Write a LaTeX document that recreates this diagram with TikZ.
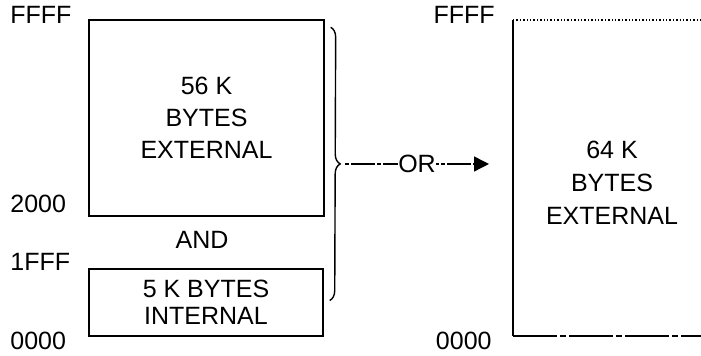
\documentclass[tikz,border=0pt]{standalone}
\usepackage{fontspec}
\setmainfont{Liberation Sans}
\usetikzlibrary{decorations.pathreplacing,arrows.meta}
\tikzset{
  mem/.style={
    % The shape:
    shape=rectangle,inner sep=0pt,
    % The border:
    line width=0.7pt,draw=black,
    % The text:
    align=center,font=\fontsize{12.5}{16}\selectfont
  }}
\tikzset{
	addr/.style={
		inner sep=0pt,font=\fontsize{12.5}{15}\selectfont}}

\begin{document}
\begin{tikzpicture}[x=0.5pt,y=-0.5pt]
	\useasboundingbox (0,0) rectangle (701,356);
	% Blocks on the left
	\node[mem,minimum width=117.5pt,minimum height=98pt] (ext56) at (206.5,118) {56 K\\BYTES\\EXTERNAL};
	\node[mem,minimum width=117pt,minimum height=33.5pt,font=\fontsize{12.5}{13.5}\selectfont] (int5) at (206,302.5) {5 K BYTES\\INTERNAL};
	\node[addr] (and) at (202,240) {AND};
	% Addresses on the left
	\node[addr,anchor=base west] (hi1) at (10,24) {FFFF};
	\node[addr,anchor=base west] (a2000) at (10,213) {2000};
	\node[addr,anchor=base west] (a1fff) at (10,271) {1FFF};
	\node[addr,anchor=base west] (lo1) at (10,350) {0000};
	% Brace round both blocks
	\draw[line width=0.7pt,decorate,decoration={brace,amplitude=5pt}]
		([xshift=3pt,yshift=-4pt]ext56.north east) -- ([xshift=3pt,yshift=1pt]int5.east);
	\coordinate (bracetip) at (345,164);
	% Block on the right, open at the far side
	\coordinate (tl) at (513,20);
	\coordinate (bl) at (513,336);
	\draw[line width=0.9pt] (tl) -- (bl);
	\draw[line width=0.7pt,densely dotted] (tl) -- (701,20);
	\draw[line width=0.7pt,dash pattern=on 22pt off 1.5pt on 3pt off 1.5pt] (bl) -- (701,336);
	\node[mem,draw=none,font=\fontsize{12.5}{16.5}\selectfont] (ext64) at (612,183) {64 K\\BYTES\\EXTERNAL};
	\node[addr,anchor=base east] (hi2) at (495,24) {FFFF};
	\node[addr,anchor=base east] (lo2) at (492,350) {0000};
	% The arrow between
	\coordinate (orend) at (489,164);
	\draw[line width=0.7pt,dash pattern=on 2pt off 1pt on 12pt off 1pt,
		-{Triangle[length=7.5pt,width=7.5pt]}] (bracetip) -- node[fill=white,inner xsep=1.5pt,addr] (or) {OR} (orend);
\end{tikzpicture}
\end{document}
